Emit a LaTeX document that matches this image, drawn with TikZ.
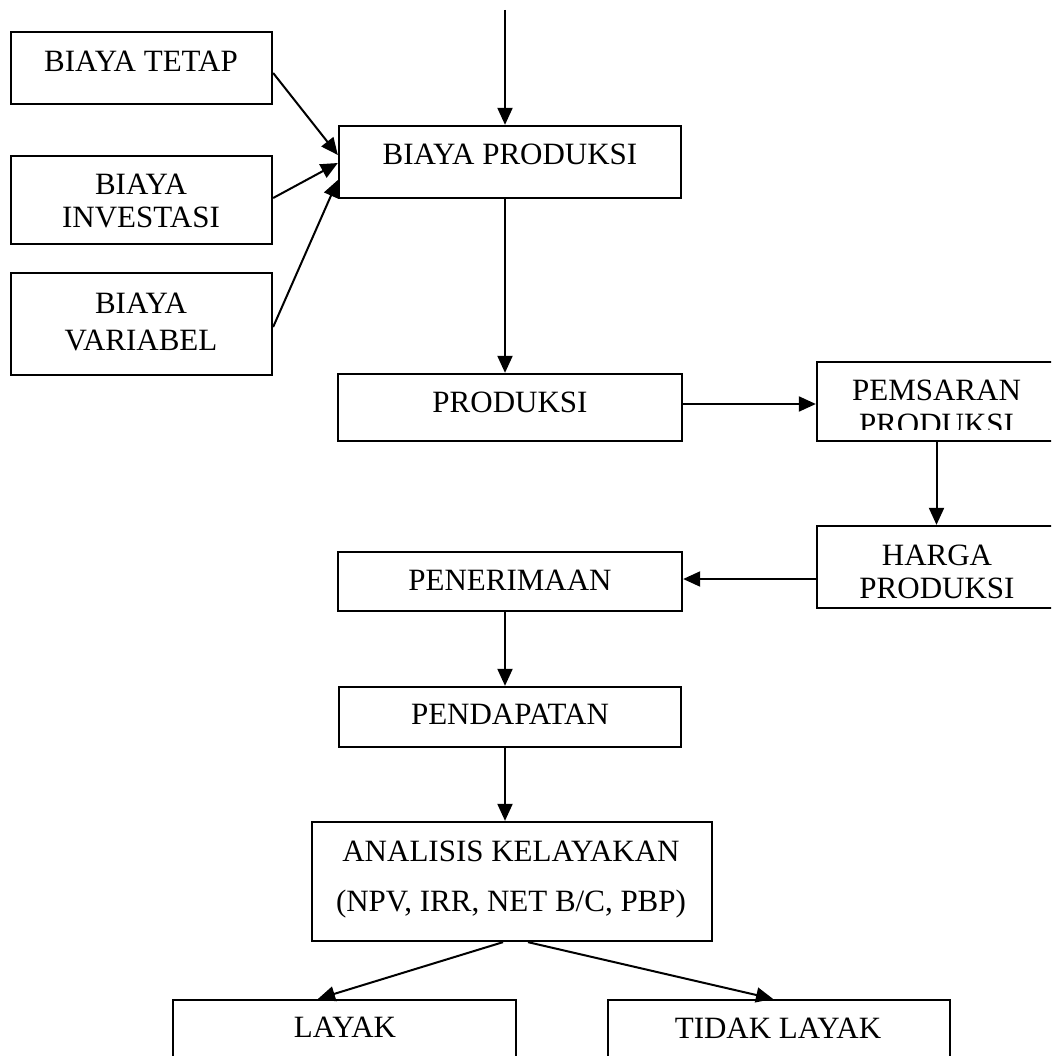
\documentclass[tikz,border=0pt]{standalone}
\usepackage{fontspec}
\setmainfont{Liberation Serif}
\usetikzlibrary{arrows.meta}
\tikzset{
  x=1pt, y=-1pt,
  box/.style={draw=black, line width=2.3pt, rectangle, inner sep=0pt, fill=none},
  lbl/.style={anchor=base, inner sep=0pt, font=\fontsize{31pt}{34pt}\selectfont},
  arr/.style={line width=2pt, -{Triangle[length=17pt,width=15pt]}}
}
\begin{document}
\begin{tikzpicture}
\useasboundingbox (0,0) rectangle (1051,1056);
\clip (0,0) rectangle (1051,1056);
% boxes
\node[box, minimum width=261pt, minimum height=72pt]  (tetap)   at (141.5,68) {};
\node[box, minimum width=261pt, minimum height=88pt]  (invest)  at (141.5,200) {};
\node[box, minimum width=261pt, minimum height=102pt] (variabel) at (141.5,324) {};
\node[box, minimum width=342pt, minimum height=72pt]  (bprod)   at (510,162) {};
\node[box, minimum width=344pt, minimum height=67pt]  (prod)    at (510,407.5) {};
\node[box, minimum width=239pt, minimum height=79pt]  (pems)    at (936.5,401.5) {};
\node[box, minimum width=239pt, minimum height=82pt]  (harga)   at (936.5,567) {};
\node[box, minimum width=344pt, minimum height=59pt]  (terima)  at (510,581.5) {};
\node[box, minimum width=342pt, minimum height=60pt]  (dapat)   at (510,717) {};
\node[box, minimum width=400pt, minimum height=119pt] (anal)    at (512,881.5) {};
\node[box, minimum width=343pt, minimum height=80pt]  (layak)   at (344.5,1040) {};
\node[box, minimum width=342pt, minimum height=80pt]  (tidak)   at (779,1040) {};
% labels
\node[lbl] (tetapL) at (141,72) {BIAYA TETAP};
\node[lbl] (investL1) at (141,195) {BIAYA};
\node[lbl] (investL2) at (141,228) {INVESTASI};
\node[lbl] (variabelL1) at (141,313) {BIAYA};
\node[lbl] (variabelL2) at (141,350) {VARIABEL};
\node[lbl] (bprodL) at (510,165) {BIAYA PRODUKSI};
\node[lbl] (prodL) at (510,412) {PRODUKSI};
\node[lbl] (pemsL1) at (936.5,400) {PEMSARAN};
\begin{scope}
\clip (818,363) rectangle (1051,429);
\node[lbl] (pemsL2) at (936.5,434) {PRODUKSI};
\end{scope}
\node[lbl] (hargaL1) at (937,565) {HARGA};
\node[lbl] (hargaL2) at (937,598) {PRODUKSI};
\node[lbl] (terimaL) at (510,590) {PENERIMAAN};
\node[lbl] (dapatL) at (510,724) {PENDAPATAN};
\node[lbl] (analL1) at (511,861) {ANALISIS KELAYAKAN};
\node[lbl] (analL2) at (511,911) {(NPV, IRR, NET B/C, PBP)};
\node[lbl] (layakL) at (345,1037) {LAYAK};
\node[lbl] (tidakL) at (778,1038) {TIDAK LAYAK};
% connectors
\coordinate (topin) at (505,10);
\draw[arr] (topin) -- ([xshift=-5pt]bprod.north);
\draw[arr] ([yshift=-5pt]tetap.east) -- ([yshift=7pt]bprod.west);
\draw[arr] ([yshift=2pt]invest.east) -- ([yshift=-1pt]bprod.west);
\draw[arr] ([yshift=-3pt]variabel.east) -- ([yshift=-18pt]bprod.west);
\draw[arr] ([xshift=-5pt]bprod.south) -- ([xshift=-5pt]prod.north);
\draw[arr] ([yshift=3.5pt]prod.east) -- ([yshift=-2.5pt]pems.west);
\draw[arr] (pems.south) -- (harga.north);
\draw[arr] ([yshift=-12pt]harga.west) -- ([yshift=2.5pt]terima.east);
\draw[arr] ([xshift=-5pt]terima.south) -- ([xshift=-5pt]dapat.north);
\draw[arr] ([xshift=-5pt]dapat.south) -- ([xshift=-7pt]anal.north);
\draw[arr] ([xshift=-9pt]anal.south) -- ([xshift=-26.5pt]layak.north);
\draw[arr] ([xshift=16pt]anal.south) -- ([xshift=-6pt]tidak.north);
\end{tikzpicture}
\end{document}
